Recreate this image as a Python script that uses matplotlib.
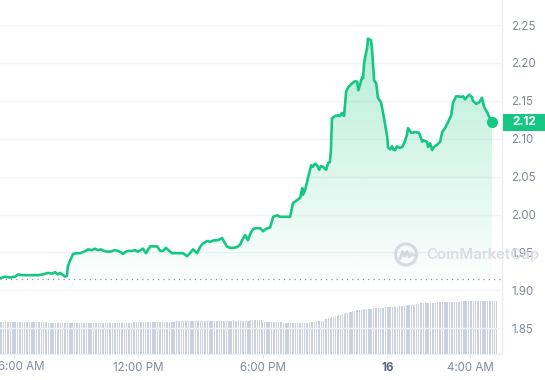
import numpy as np
import matplotlib
matplotlib.use("Agg")
import matplotlib.pyplot as plt
from matplotlib.patches import Rectangle, Circle, Polygon
from matplotlib.lines import Line2D
import matplotlib.transforms as mtransforms

plt.rcParams['font.family'] = ['Inter', 'DejaVu Sans']

# ---------------- data ----------------
# time in minutes since 00:00 of the 15th
minutes = [320, 334, 348, 363, 372, 383, 398, 412, 429, 444, 458, 470, 479, 487, 493, 502, 508, 513,
           516, 522, 531, 542, 551, 563, 574, 586, 594, 603, 612, 620, 629, 638, 652, 661, 670, 675,
           684, 690, 701, 710, 719, 733, 742, 754, 765, 774, 783, 791, 800, 809, 817, 832, 849, 861,
           869, 878, 890, 898, 907, 919, 927, 939, 950, 962, 968, 976, 985, 994, 1005, 1014, 1020,
           1029, 1037, 1043, 1052, 1060, 1072, 1081, 1089, 1101, 1110, 1121, 1130, 1138, 1150, 1159,
           1167, 1179, 1188, 1194, 1196, 1202, 1211, 1220, 1225, 1231, 1237, 1243, 1248, 1254, 1263,
           1269, 1274, 1277, 1280, 1289, 1298, 1303, 1309, 1315, 1321, 1327, 1338, 1347, 1353, 1356,
           1361, 1367, 1370, 1373, 1382, 1384, 1393, 1396, 1402, 1408, 1413, 1422, 1428, 1434, 1440,
           1442, 1448, 1454, 1457, 1463, 1468, 1471, 1477, 1483, 1489, 1492, 1497, 1500, 1509, 1515,
           1521, 1526, 1532, 1541, 1544, 1549, 1555, 1558, 1564, 1570, 1575, 1584, 1593, 1599, 1607,
           1616, 1625, 1630, 1639, 1645, 1654, 1659, 1665, 1671, 1677, 1685, 1688, 1697, 1706, 1714,
           1720, 1729, 1738, 1743]
prices = [1.916, 1.918, 1.917, 1.918, 1.921, 1.920, 1.920, 1.920, 1.920, 1.921, 1.923, 1.922, 1.924,
          1.921, 1.923, 1.920, 1.918, 1.919, 1.932, 1.939, 1.948, 1.949, 1.949, 1.951, 1.954, 1.953,
          1.955, 1.953, 1.954, 1.952, 1.951, 1.951, 1.953, 1.952, 1.950, 1.948, 1.951, 1.952, 1.952,
          1.953, 1.951, 1.955, 1.949, 1.958, 1.958, 1.958, 1.952, 1.952, 1.956, 1.952, 1.949, 1.949,
          1.949, 1.945, 1.949, 1.954, 1.949, 1.957, 1.962, 1.965, 1.964, 1.966, 1.966, 1.969, 1.964,
          1.958, 1.956, 1.956, 1.957, 1.960, 1.966, 1.973, 1.966, 1.974, 1.981, 1.982, 1.982, 1.978,
          1.981, 1.983, 1.997, 1.999, 1.997, 1.997, 1.997, 1.997, 2.015, 2.019, 2.022, 2.035, 2.026,
          2.032, 2.049, 2.065, 2.063, 2.067, 2.065, 2.059, 2.064, 2.063, 2.059, 2.068, 2.069, 2.085,
          2.127, 2.130, 2.131, 2.130, 2.134, 2.130, 2.162, 2.168, 2.173, 2.176, 2.175, 2.164, 2.171,
          2.181, 2.180, 2.200, 2.221, 2.232, 2.230, 2.217, 2.177, 2.173, 2.154, 2.148, 2.134, 2.118,
          2.102, 2.089, 2.086, 2.090, 2.086, 2.085, 2.090, 2.089, 2.088, 2.089, 2.094, 2.098, 2.105,
          2.114, 2.108, 2.108, 2.109, 2.108, 2.108, 2.096, 2.098, 2.097, 2.096, 2.089, 2.094, 2.085,
          2.089, 2.092, 2.096, 2.109, 2.114, 2.122, 2.131, 2.147, 2.156, 2.156, 2.155, 2.156, 2.152,
          2.155, 2.158, 2.155, 2.150, 2.146, 2.148, 2.154, 2.142, 2.135, 2.126, 2.122]

open_price = 1.915

# volume bars: one every 5 minutes starting at minute 320 (relative units)
vol_start = 320
vol_step = 5
volumes = [
    32, 32, 32, 33, 32, 32, 32, 32, 32, 32, 32, 32, 32, 32, 32, 32, 32, 32, 32, 32, 32, 32, 32, 32,
    32, 32, 32, 32, 31, 31, 31, 31, 31, 31, 31, 31, 31, 31, 31, 31, 31, 31, 31, 31, 31, 31, 31, 31,
    31, 31, 31, 31, 31, 31, 31, 31, 31, 31, 31, 31, 31, 31, 31, 31, 31, 31, 31, 31, 31, 31, 31, 31,
    31, 31, 31, 31, 31, 32, 32, 32, 32, 32, 32, 32, 32, 32, 32, 32, 32, 32, 32, 32, 32, 32, 32, 32,
    32, 32, 32, 32, 32, 33, 33, 33, 33, 33, 33, 33, 33, 33, 33, 33, 33, 33, 33, 33, 33, 33, 33, 33,
    33, 33, 33, 33, 33, 33, 33, 33, 33, 33, 33, 33, 33, 33, 33, 34, 33, 33, 33, 33, 33, 33, 33, 33,
    33, 34, 34, 34, 34, 34, 34, 34, 32, 32, 32, 32, 32, 32, 32, 32, 32, 32, 32, 32, 31, 31, 31, 31,
    31, 31, 31, 31, 31, 31, 31, 31, 31, 31, 31, 32, 32, 32, 32, 33, 33, 33, 33, 33, 35, 35, 36, 36,
    37, 37, 38, 38, 39, 39, 40, 40, 41, 41, 42, 42, 43, 43, 44, 44, 44, 44, 45, 45, 45, 45, 45, 45,
    46, 46, 46, 46, 46, 46, 46, 47, 47, 47, 47, 47, 47, 47, 47, 48, 48, 48, 48, 48, 49, 49, 49, 49,
    49, 50, 50, 51, 51, 51, 51, 51, 51, 51, 51, 51, 51, 52, 52, 52, 52, 52, 52, 52, 52, 52, 52, 52,
    52, 52, 52, 53, 53, 53, 53, 53, 53, 53, 53, 53, 53, 53, 53, 53, 53, 53, 53, 53, 53, 53, 53, 53,
]

y_ticks = [1.85, 1.90, 1.95, 2.00, 2.05, 2.10, 2.15, 2.20, 2.25]
x_tick_minutes = [360, 720, 1080, 1440, 1680]
x_tick_labels = ["6:00 AM", "12:00 PM", "6:00 PM", "16", "4:00 AM"]

# ---------------- style ----------------
GREEN = '#16c784'
LABEL = '#808a9d'
W, H = 545, 380

fig = plt.figure(figsize=(W / 100, H / 100), dpi=100)
fig.patch.set_facecolor('white')
pos = [0, 26 / H, 502 / W, 354 / H]
xlim = (319.5, 1772)
ylim = (1.816, 2.283)

# volume axes (behind)
axv = fig.add_axes(pos, zorder=0)
vol_times = vol_start + vol_step * np.arange(len(volumes))
axv.bar(vol_times, volumes, width=vol_step * 0.62, color='#c9d1e0', linewidth=0, align='center')
axv.set_xlim(xlim)
axv.set_ylim(0, 354)
axv.axis('off')

# price axes
ax = fig.add_axes(pos, zorder=1)
ax.patch.set_alpha(0)

# gradient fill between line and open price
top = max(prices)
grad = np.linspace(0, 1, 256)
img = np.zeros((256, 1, 4))
img[..., 0] = 22 / 255
img[..., 1] = 199 / 255
img[..., 2] = 132 / 255
img[:, 0, 3] = 0.015 + 0.30 * grad
im = ax.imshow(img, extent=[minutes[0], minutes[-1], open_price, top], origin='lower',
               aspect='auto', zorder=1, interpolation='bilinear')
verts = [(minutes[0], open_price)] + list(zip(minutes, prices)) + [(minutes[-1], open_price)]
poly = Polygon(verts, closed=True, facecolor='none', edgecolor='none', transform=ax.transData)
ax.add_patch(poly)
im.set_clip_path(poly)

# dotted open-price line
ax.plot([xlim[0], 1766], [open_price, open_price], ls=(0, (1, 3.2)), color='#8c94a3', lw=0.9, zorder=2)

# price line + last dot
ax.plot(minutes, prices, color=GREEN, lw=1.9, solid_joinstyle='round', solid_capstyle='round', zorder=3)
ax.plot([minutes[-1]], [prices[-1]], 'o', ms=7, color=GREEN, zorder=4)

ax.set_xlim(xlim)
ax.set_ylim(ylim)

ax.set_yticks(y_ticks)
ax.set_yticklabels([f"{v:.2f}" for v in y_ticks])
ax.yaxis.tick_right()
ax.tick_params(axis='y', length=0, pad=6.5, labelsize=8.3, labelcolor=LABEL)
ax.grid(axis='y', color='#f2f3f5', lw=1)
ax.set_axisbelow(True)

ax.set_xticks(x_tick_minutes)
# first label is drawn separately, shifted to stay inside the figure (as in the reference)
ax.set_xticklabels([""] + x_tick_labels[1:])
ax.tick_params(axis='x', length=3, width=0.8, color='#e3e6eb', pad=3, labelsize=8.3, labelcolor=LABEL)
for lab in ax.get_xticklabels():
    if lab.get_text() == "16":
        lab.set_fontweight('bold')
        lab.set_color('#58667e')
xblend = mtransforms.blended_transform_factory(fig.transFigure, fig.transFigure)
fig.text(-2 / W, 1 - 367.5 / H, x_tick_labels[0], ha='left', va='center', fontsize=8.3, color=LABEL)

for s in ['top', 'left']:
    ax.spines[s].set_visible(False)
for s in ['right', 'bottom']:
    ax.spines[s].set_color('#eceef2')
    ax.spines[s].set_linewidth(1)

# last price tag
blend = mtransforms.blended_transform_factory(fig.transFigure, ax.transData)
box_h = 17 / 758
ax.add_patch(Rectangle((503 / W, prices[-1] - box_h / 2), 42 / W, box_h, transform=blend,
                       facecolor=GREEN, edgecolor='none', clip_on=False, zorder=5))
ax.text(524 / W, prices[-1], f"{prices[-1]:.2f}", transform=blend, ha='center', va='center',
        color='white', fontsize=8.5, fontweight='bold', zorder=6, clip_on=False)

# watermark
wm = '#d5dae2'
circ = Circle((406, H - 254.5), 10.5, transform=mtransforms.IdentityTransform(),
              facecolor='none', edgecolor=wm, lw=2.2, zorder=7)
fig.patches.append(circ)
wave_x = np.array([-6.0, -3.5, -1.2, 1.0, 3.2, 5.5, 7.5])
wave_y = np.array([-4.5, 3.0, -2.0, 3.0, -2.5, 0.5, -0.5])
fig.lines.append(Line2D(406 + wave_x, H - 254.5 + wave_y, transform=mtransforms.IdentityTransform(),
                        color=wm, lw=2.0, solid_joinstyle='round', solid_capstyle='round', zorder=7))
fig.text(426 / W, 1 - 254.5 / H, "CoinMarketCap", color=wm, fontsize=10.8, fontweight='semibold',
         ha='left', va='center', zorder=7, alpha=0.9)

fig.savefig('out.png', dpi=100)
